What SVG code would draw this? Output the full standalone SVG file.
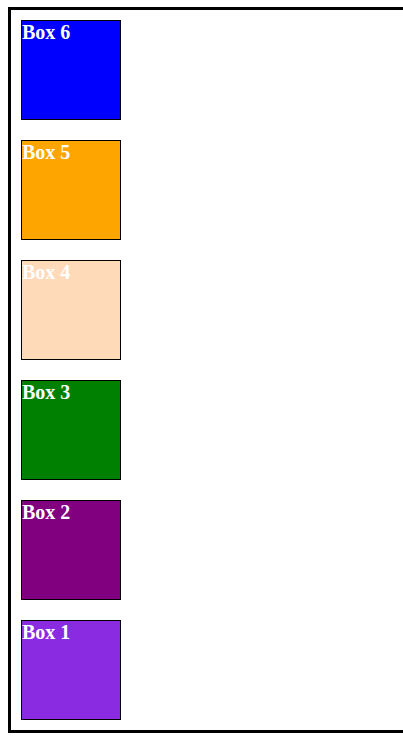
<svg xmlns="http://www.w3.org/2000/svg" width="403" height="736" viewBox="0 0 403 736">
<style>
.box{stroke:#000;stroke-width:1}
.lbl{font-family:"Liberation Serif","Times New Roman",serif;font-weight:bold;font-size:20px;fill:#fff}
</style>
<rect x="0" y="0" width="403" height="736" fill="#fff"/>
<rect x="9.5" y="8.5" width="500" height="723" fill="none" stroke="#000" stroke-width="3"/>
<g id="box6"><rect class="box" x="21.5" y="20.5" width="99" height="99" fill="#0000ff"/><text class="lbl" x="22" y="39">Box 6</text></g>
<g id="box5"><rect class="box" x="21.5" y="140.5" width="99" height="99" fill="#ffa500"/><text class="lbl" x="22" y="159">Box 5</text></g>
<g id="box4"><rect class="box" x="21.5" y="260.5" width="99" height="99" fill="#ffdab9"/><text class="lbl" x="22" y="279">Box 4</text></g>
<g id="box3"><rect class="box" x="21.5" y="380.5" width="99" height="99" fill="#008000"/><text class="lbl" x="22" y="399">Box 3</text></g>
<g id="box2"><rect class="box" x="21.5" y="500.5" width="99" height="99" fill="#800080"/><text class="lbl" x="22" y="519">Box 2</text></g>
<g id="box1"><rect class="box" x="21.5" y="620.5" width="99" height="99" fill="#8a2be2"/><text class="lbl" x="22" y="639">Box 1</text></g>
<g id="connectors"></g>
</svg>
